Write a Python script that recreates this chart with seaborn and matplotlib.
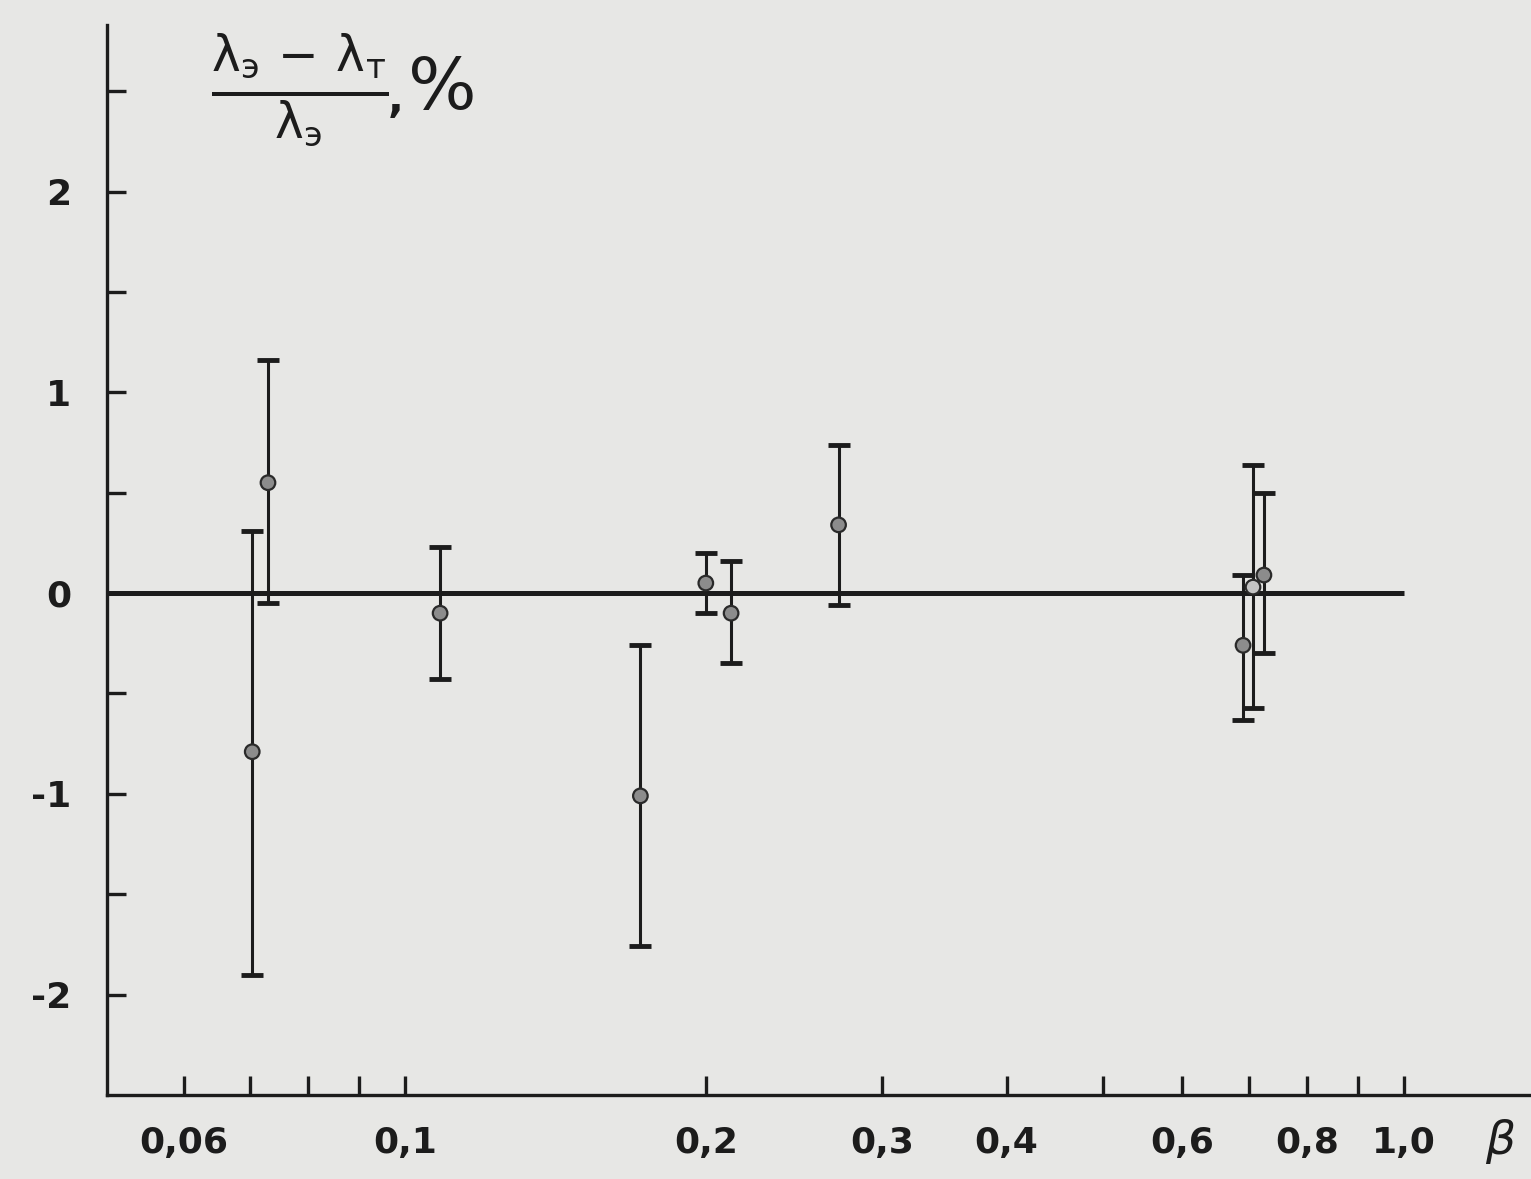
import numpy as np
import pandas as pd
import matplotlib
matplotlib.use("Agg")
import matplotlib.pyplot as plt
import seaborn as sns
from matplotlib.ticker import FixedLocator, NullFormatter

# ---- data ----
beta = [0.0703, 0.0729, 0.1084, 0.172, 0.200, 0.212, 0.2716, 0.690, 0.706, 0.724]
dev = [-0.79, 0.55, -0.10, -1.01, 0.05, -0.10, 0.34, -0.26, 0.03, 0.09]
err_lo = [1.11, 0.60, 0.33, 0.75, 0.15, 0.25, 0.40, 0.37, 0.60, 0.39]
err_hi = [1.10, 0.61, 0.33, 0.75, 0.15, 0.26, 0.40, 0.35, 0.61, 0.41]
face = ["#8c8c8c"] * 8 + ["#c4c4c4", "#8c8c8c"]

xtick_major = [0.06, 0.1, 0.2, 0.3, 0.4, 0.6, 0.8, 1.0]
xtick_labels = ["0,06", "0,1", "0,2", "0,3", "0,4", "0,6", "0,8", "1,0"]
xtick_minor = [0.07, 0.08, 0.09, 0.5, 0.7, 0.9]
ytick_major = [-2, -1, 0, 1, 2]
ytick_labels = ["-2", "-1", "0", "1", "2"]
ytick_minor = [-1.5, -0.5, 0.5, 1.5, 2.5]
zero_line_x = [0.0503, 1.0]

df = pd.DataFrame({"beta": beta, "dev": dev})

bg = "#e7e7e5"
ink = "#1c1c1c"

sns.set_theme(style="white")
plt.rcParams["font.family"] = ["DejaVu Sans"]
plt.rcParams["mathtext.fontset"] = "dejavusans"

fig = plt.figure(figsize=(15.31, 11.79), dpi=100, facecolor=bg)
ax = fig.add_axes([107 / 1531, 84 / 1179, 1 - 107 / 1531, (1095 - 25) / 1179])
ax.set_facecolor(bg)
ax.set_xscale("log")
ax.set_xlim(0.0503, 1.34)
ax.set_ylim(-2.5, 2.83)

# zero reference line
ax.plot(zero_line_x, [0, 0], color=ink, lw=3.6, solid_capstyle="butt", zorder=2)

# error bars
ax.errorbar(beta, dev, yerr=[err_lo, err_hi], fmt="none", ecolor=ink,
            elinewidth=2.2, capsize=8, capthick=3.5, zorder=3)

# points
sns.scatterplot(data=df, x="beta", y="dev", ax=ax, s=110, color="#8c8c8c",
                edgecolor="#2a2a2a", linewidth=1.6, zorder=4, legend=False)
ax.collections[-1].set_facecolor(face)

# spines
for s in ["top", "right"]:
    ax.spines[s].set_visible(False)
for s in ["left", "bottom"]:
    ax.spines[s].set_color(ink)
    ax.spines[s].set_linewidth(2.4)

# ticks
ax.xaxis.set_major_locator(FixedLocator(xtick_major))
ax.xaxis.set_minor_locator(FixedLocator(xtick_minor))
ax.set_xticklabels(xtick_labels)
ax.xaxis.set_minor_formatter(NullFormatter())
ax.yaxis.set_major_locator(FixedLocator(ytick_major))
ax.yaxis.set_minor_locator(FixedLocator(ytick_minor))
ax.set_yticklabels(ytick_labels)

ax.tick_params(axis="both", which="both", direction="in", length=14, width=2.4,
               color=ink, labelcolor=ink, labelsize=26)
ax.tick_params(axis="x", which="both", pad=22)
ax.tick_params(axis="y", which="both", pad=26, left=True)
ax.tick_params(axis="x", which="both", bottom=True)
for lab in ax.get_xticklabels() + ax.get_yticklabels():
    lab.set_fontweight("bold")

ax.set_xlabel("")
ax.set_ylabel("")

# axis labels
fig.text(1500 / 1531, 1 - 1142 / 1179, r"$\beta$", fontsize=34, color=ink,
         ha="center", va="center")
fig.text(300 / 1531, 1 - 90 / 1179,
         r"$\frac{\mathrm{\lambda}_{\mathrm{э}}\,-\,\mathrm{\lambda}_{\mathrm{т}}}{\mathrm{\lambda}_{\mathrm{э}}}$",
         fontsize=50, color=ink, ha="center", va="center")
fig.text(404 / 1531, 1 - 100 / 1179, ",", fontsize=30, color=ink,
         ha="right", va="center", fontweight="bold")
fig.text(408 / 1531, 1 - 90 / 1179, "%", fontsize=52, color=ink,
         ha="left", va="center")

fig.savefig("out.png", dpi=100, facecolor=bg)
